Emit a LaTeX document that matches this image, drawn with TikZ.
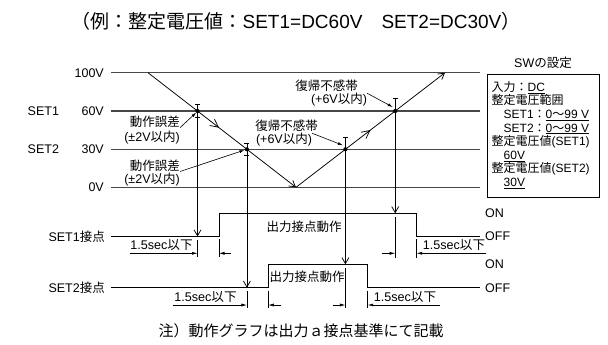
\documentclass[tikz,border=0pt]{standalone}
\usepackage{fontspec}
\setmainfont{Liberation Sans}
\newfontfamily\jp{Noto Sans CJK JP}
\usetikzlibrary{arrows.meta,decorations.markings,calc}
\newcommand\J[1]{{\jp #1}}
\begin{document}
\begin{tikzpicture}[x=1bp,y=-1bp,
  gridline/.style={draw=black!72, line width=1.1bp},
  sig/.style={line width=0.75bp},
  thin/.style={line width=0.6bp},
  lbl/.style={font=\fontsize{12.5bp}{14bp}\selectfont, inner sep=0pt},
  small/.style={font=\fontsize{12.6bp}{13.5bp}\selectfont, inner sep=0pt},
  chev/.style={-{Straight Barb[length=6bp,width=7bp,line width=0.75bp]}},
  dimarr/.style={thin,-{Latex[length=5.5bp,width=3bp]}},
  lead/.style={thin,-{Latex[length=5bp,width=3bp]}},
  midarrow/.style={postaction={decorate}, decoration={markings,
     mark=at position #1 with {\arrow{Straight Barb[length=8bp,width=8bp,line width=0.75bp]}}}},
  swbox/.style={draw, line width=0.8bp, minimum width=112bp, minimum height=123bp, inner sep=0pt}
]
\useasboundingbox (0,0) rectangle (608,344);

% title and footer
\node[font=\fontsize{19bp}{21bp}\selectfont, inner sep=0pt] (title) at (296,21)
  {\J{（例：整定電圧値：}SET1=DC60V\J{　}SET2=DC30V\J{）}};
\node[font=\fontsize{15bp}{17bp}\selectfont, inner sep=0pt] (note) at (301,331)
  {\J{注）動作グラフは出力ａ接点基準にて記載}};

% level labels
\node[lbl, anchor=east] (l100) at (104,72.7) {100V};
\node[lbl, anchor=east] (l60) at (104,111) {60V};
\node[lbl, anchor=east] (l30) at (104,149.3) {30V};
\node[lbl, anchor=east] (l0) at (104,187.3) {0V};
\node[lbl, anchor=west] (s1) at (27.5,111) {SET1};
\node[lbl, anchor=west] (s2) at (27.5,149.3) {SET2};

% grid lines
\coordinate (g100a) at (111,72.7);  \coordinate (g100b) at (480,72.7);
\coordinate (g60a) at (111,111);    \coordinate (g60b) at (480,111);
\coordinate (g30a) at (111,149.3);  \coordinate (g30b) at (480,149.3);
\coordinate (g0a) at (111,187.3);   \coordinate (g0b) at (480,187.3);
\draw[gridline] (g100a) -- (g100b);
\draw[gridline] (g60a) -- (g60b);
\draw[gridline] (g30a) -- (g30b);
\draw[gridline] (g0a) -- (g0b);

% voltage curve
\coordinate (A) at (148,72.7);
\coordinate (B) at (296,187.3);
\coordinate (C) at (445,72.7);
\coordinate (P1) at (197.5,111);
\coordinate (P2) at (246.9,149.3);
\coordinate (R2) at (345.4,149.3);
\coordinate (R1) at (395.2,111);
\draw[sig, chev, midarrow=0.48] (A) -- (B);
\draw[sig, chev, midarrow=0.5] (B) -- (C);
\foreach \p in {P1,P2,R2,R1} \fill (\p) circle (2.1bp);

% error bars
\draw[thin] (195,104) -- (200,104);
\draw[thin] (195,117.5) -- (200,117.5);
\draw[thin] (244.4,143) -- (249.4,143);
\draw[thin] (244.4,155.5) -- (249.4,155.5);
\draw[thin] (342.9,137) -- (347.9,137);
\draw[thin] (392.7,98.7) -- (397.7,98.7);

% annotations
\node[lbl, anchor=east] (e1a) at (180,121.7) {\J{動作誤差}};
\node[lbl, anchor=east] (e1b) at (180,138) {(±2V\J{以内})};
\node[lbl, anchor=east] (e2a) at (180,165.5) {\J{動作誤差}};
\node[lbl, anchor=east] (e2b) at (180,180) {(±2V\J{以内})};
\node[lbl] (h1a) at (286.5,126) {\J{復帰不感帯}};
\node[lbl] (h1b) at (284,140) {(+6V\J{以内})};
\node[lbl] (h2a) at (326.5,86) {\J{復帰不感帯}};
\node[lbl] (h2b) at (339,100) {(+6V\J{以内})};
\draw[lead] (e1a.south east) -- ($(P1)+(-1.2,1.5)$);
\draw[lead] (e2a.south east) -- ($(P2)+(-2.5,0.8)$);
\draw[lead] (h1b.north east) -- ($(R2)+(-2.5,-4)$);
\draw[lead] (h2b.north east) -- ($(R1)+(-2.5,-4)$);

% contact signals
\node[lbl, anchor=east] (c1) at (105,236.5) {SET1\J{接点}};
\node[lbl, anchor=east] (c2) at (105,287.7) {SET2\J{接点}};
\coordinate (c1a) at (111,236.5); \coordinate (c1b) at (480,236.5);
\coordinate (c2a) at (111,287.7); \coordinate (c2b) at (480,287.7);
\draw[sig] (c1a) -- (219,236.5) -- (219,213.3) -- (416.7,213.3) -- (416.7,236.5) -- (c1b);
\draw[sig] (c2a) -- (268.3,287.7) -- (268.3,264.3) -- (367.7,264.3) -- (367.7,287.7) -- (c2b);
\node[lbl] (o1) at (304,226.5) {\J{出力接点動作}};
\node[lbl] (o2) at (307,277) {\J{出力接点動作}};
\node[lbl, anchor=west] (on1) at (485,213.5) {ON};
\node[lbl, anchor=west] (off1) at (485,236.5) {OFF};
\node[lbl, anchor=west] (on2) at (485,264.3) {ON};
\node[lbl, anchor=west] (off2) at (485,287.7) {OFF};

% verticals with arrows
\draw[sig, chev] (197.5,104) -- (197.5,236.5);
\draw[sig, chev] (246.9,143) -- (246.9,287.7);
\draw[sig, chev] (345.4,137) -- (345.4,264.3);
\draw[sig, chev] (395.2,98.7) -- (395.2,213.3);

% extension lines
\draw[thin] (197.5,240) -- (197.5,257);
\draw[thin] (219,239) -- (219,257);
\draw[thin] (246.9,291) -- (246.9,308);
\draw[thin] (268.3,290.5) -- (268.3,308);
\draw[thin] (345.4,268) -- (345.4,308);
\draw[thin] (367.7,290.5) -- (367.7,308);
\draw[thin] (395.2,217) -- (395.2,258);
\draw[thin] (416.7,239) -- (416.7,258);

% dimension arrows
\draw[dimarr] (130,253.3) -- (197.5,253.3);
\draw[dimarr] (231,253.3) -- (219,253.3);
\draw[dimarr] (173.3,305) -- (246.9,305);
\draw[dimarr] (281,305) -- (268.3,305);
\draw[dimarr] (333.3,305) -- (345.4,305);
\draw[dimarr] (440,305) -- (367.7,305);
\draw[dimarr] (381.7,253.3) -- (395.2,253.3);
\draw[dimarr] (486,253.3) -- (416.7,253.3);
\node[small] (d1) at (161.5,245) {1.5sec\J{以下}};
\node[small] (d2) at (205.5,297) {1.5sec\J{以下}};
\node[small] (d3) at (405,297) {1.5sec\J{以下}};
\node[small] (d4) at (454,245) {1.5sec\J{以下}};

% SW settings box
\node[lbl] (swt) at (543,63) {SW\J{の設定}};
\node[swbox, anchor=north west] (sw) at (487,74) {};
\node[anchor=north west, align=left, inner sep=0pt, font=\fontsize{12bp}{13.6bp}\selectfont] (swtext) at (491.5,81)
  {\J{入力：}\underline{DC}\\
   \J{整定電圧範囲}\\
   \hspace{12bp}SET1\J{：}\underline{0\J{〜}99 V}\\
   \hspace{12bp}SET2\J{：}\underline{0\J{〜}99 V}\\
   \J{整定電圧値}(SET1)\\
   \hspace{12bp}\underline{60V}\\
   \J{整定電圧値}(SET2)\\
   \hspace{12bp}\underline{30V}};
\end{tikzpicture}
\end{document}
